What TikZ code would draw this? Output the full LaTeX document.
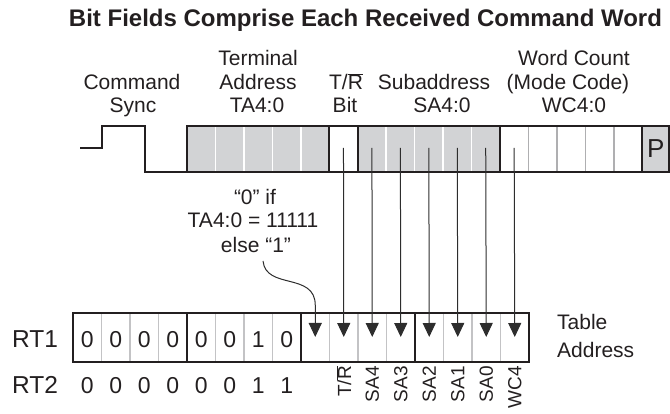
\documentclass[tikz,border=0pt]{standalone}
\usepackage{fontspec}
\setmainfont{Liberation Sans}
\usetikzlibrary{arrows.meta}
\definecolor{cellgray}{RGB}{210,211,213}
\definecolor{divgray}{RGB}{175,175,177}
\definecolor{lightdiv}{RGB}{195,195,197}
\definecolor{linegray}{RGB}{45,45,45}
\definecolor{textc}{RGB}{35,31,32}
\newcommand{\Rbar}{$\overline{\mbox{R}}$}
\begin{document}
\begin{tikzpicture}[x=1pt,y=-1pt,
  lab/.style={font=\fontsize{21}{25}\selectfont, anchor=base, inner sep=0pt, text=textc},
  titlestyle/.style={font=\fontsize{24}{28}\selectfont\bfseries, anchor=base, inner sep=0pt, text=textc},
  biglab/.style={font=\fontsize{24.5}{28}\selectfont, anchor=base west, inner sep=0pt, text=textc},
  digit/.style={font=\fontsize{23}{27}\selectfont, anchor=base, inner sep=0pt, text=textc},
  vlab/.style={font=\fontsize{19}{22}\selectfont, rotate=90, anchor=east, inner sep=0pt, text=textc},
  wave/.style={line width=2pt, draw=textc, line join=miter},
  frame/.style={line width=2pt, draw=textc},
  pointer/.style={line width=1pt, draw=linegray, -{Triangle[width=13pt,length=14pt]}}
]
\useasboundingbox (0,0) rectangle (670,414);

% title
\node[titlestyle] (title) at (365.5,27) {Bit Fields Comprise Each Received Command Word};

% field labels
\node[lab] (cmdA) at (132,90) {Command};
\node[lab] (cmdB) at (133,113) {Sync};
\node[lab] (taA) at (258,66) {Terminal};
\node[lab] (taB) at (258,90) {Address};
\node[lab] (taC) at (257,113) {TA4:0};
\node[lab] (trA) at (346,90) {T/\Rbar};
\node[lab] (trB) at (345,113) {Bit};
\node[lab] (saA) at (434,90) {Subaddress};
\node[lab] (saB) at (442,113) {SA4:0};
\node[lab] (wcA) at (574,66) {Word Count};
\node[lab] (wcB) at (568,90) {(Mode Code)};
\node[lab] (wcC) at (574,113) {WC4:0};

% waveform
\draw[wave] (80,148) -- (102,148) -- (102,126) -- (145,126) -- (145,172) -- (187,172);

% top word cells
\def\tw{28.45}
\foreach \i in {0,...,4,6,7,8,9,10} {
  \fill[cellgray] (187+\i*\tw,126) rectangle (187+\i*\tw+\tw,172);
}
\fill[cellgray] (642.3,126) rectangle (669,172);
\foreach \i in {1,...,4,7,8,9,10} {
  \draw[white, line width=1.5pt] (187+\i*\tw,127) -- (187+\i*\tw,171);
}
\foreach \i in {12,...,15} {
  \draw[divgray, line width=1.5pt] (187+\i*\tw,127) -- (187+\i*\tw,171);
}
\draw[frame] (187,126) rectangle (669,172);
\foreach \i in {5,6,11,16} {
  \draw[frame] (187+\i*\tw,126) -- (187+\i*\tw,172);
}
\node[font=\fontsize{26}{30}\selectfont, anchor=base, inner sep=0pt, text=textc] (par) at (655.7,158) {P};

% top cell centres
\foreach \i in {5,...,11} {
  \coordinate (t\i) at (187+\i*\tw+0.5*\tw,148);
}

% bottom table cells
\def\bw{28.5}
\foreach \j in {1,2,3,5,6,7,9,10,11,13,14,15} {
  \draw[lightdiv, line width=1.2pt] (73+\j*\bw,314) -- (73+\j*\bw,361);
}
\draw[frame] (73,313) rectangle (529,362);
\foreach \j in {4,8,12} {
  \draw[frame] (73+\j*\bw,313) -- (73+\j*\bw,362);
}
\foreach \j in {8,...,15} {
  \coordinate (b\j) at (73+\j*\bw+0.5*\bw,337);
}

% digits
\foreach \d [count=\k from 0] in {0,0,0,0,0,0,1,0} {
  \node[digit] (ra\k) at (73+\k*\bw+0.5*\bw,348) {\d};
}
\foreach \d [count=\k from 0] in {0,0,0,0,0,0,1,1} {
  \node[digit] (rb\k) at (73+\k*\bw+0.5*\bw,393) {\d};
}
\node[biglab] (rt1) at (12,348) {RT1};
\node[biglab] (rt2) at (12,393) {RT2};

% straight pointers
\foreach \i [evaluate=\i as \j using int(\i+4)] in {5,...,11} {
  \draw[pointer] (t\i) -- (b\j);
}

% condition text and curved pointer
\node[lab] (condA) at (255,205) {“0” if};
\node[lab] (condB) at (253,228) {TA4:0 = 11111};
\node[lab] (condC) at (256,253) {else “1”};
\coordinate (cstart) at (263,261);
\draw[pointer] (cstart) .. controls (266,290) and (315,272) .. (315.25,305) -- (b8);

% rotated bit labels
\foreach \t [count=\k from 9] in {T/\Rbar,SA4,SA3,SA2,SA1,SA0,WC4} {
  \node[vlab] (v\k) at (73+\k*\bw+0.5*\bw,366) {\t};
}

% table address
\node[lab, anchor=base west] (tabA) at (557,330) {Table};
\node[lab, anchor=base west] (tabB) at (557,358) {Address};
\end{tikzpicture}
\end{document}
